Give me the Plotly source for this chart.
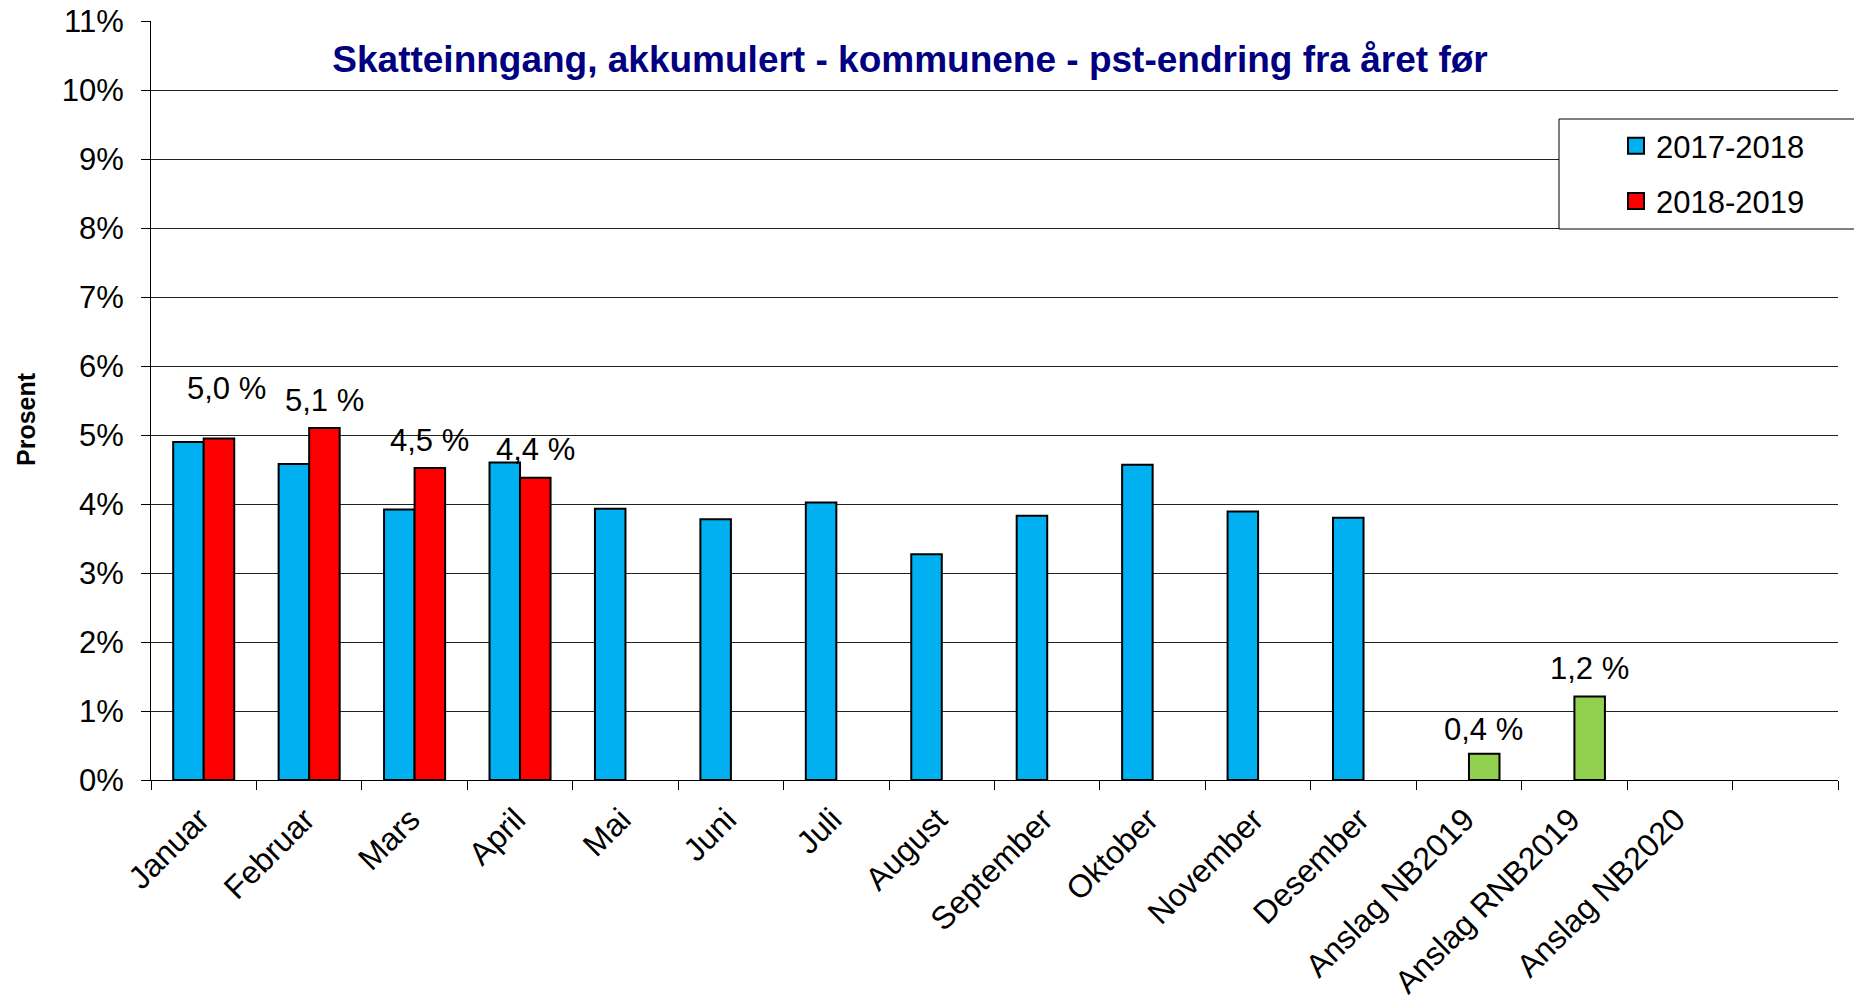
import plotly.graph_objects as go

categories = ["Januar", "Februar", "Mars", "April", "Mai", "Juni", "Juli", "August",
              "September", "Oktober", "November", "Desember",
              "Anslag NB2019", "Anslag RNB2019", "Anslag NB2020", " "]
s_2017_2018 = [4.90, 4.58, 3.92, 4.60, 3.93, 3.78, 4.02, 3.27, 3.83, 4.57, 3.89, 3.80,
               None, None, None, None]
s_2018_2019 = [4.95, 5.10, 4.52, 4.38, None, None, None, None, None, None, None, None,
               0.38, 1.21, None, None]
labels_2018_2019 = ["5,0 %", "5,1 %", "4,5 %", "4,4 %", None, None, None, None, None, None,
                    None, None, "0,4 %", "1,2 %", None, None]
series_names = ["2017-2018", "2018-2019"]
y_ticks = list(range(0, 12))
y_ticktext = [f"{v}%" for v in y_ticks]

BLUE = "#00B0F0"
RED = "#FF0000"
GREEN = "#92D050"
FONT = "Liberation Sans, Arial, sans-serif"

red_colors = [GREEN if c.startswith("Anslag") else RED for c in categories]
# extra vertical offset of each data label (style)
label_yshift = [50, 28, 28, 28, 0, 0, 0, 0, 0, 0, 0, 0, 24, 28, 0, 0]
label_xshift = [8, 0, 0, 0, 0, 0, 0, 0, 0, 0, 0, 0, -1, 0, 0, 0]

fig = go.Figure()
fig.add_trace(go.Bar(x=categories, y=s_2017_2018, name=series_names[0],
                     marker=dict(color=BLUE, line=dict(color="black", width=2)),
                     showlegend=False))
fig.add_trace(go.Bar(x=categories, y=s_2018_2019, name=series_names[1],
                     marker=dict(color=red_colors, line=dict(color="black", width=2)),
                     showlegend=False))
# legend entries
for name, col in zip(series_names, [BLUE, RED]):
    fig.add_trace(go.Scatter(x=[None], y=[None], mode="markers", name=name,
                             legendgroup=name,
                             marker=dict(symbol="square", size=16, color=col,
                                         line=dict(color="black", width=2))))

L, R, T, B = 151, 16, 21, 221
W, H = 1854, 1001
pw, ph = W - L - R, H - T - B

def px_x(x):
    return (x - L) / pw

def px_y(y):
    return (H - B - y) / ph

annotations = []
slot = 0.5 * (1 - 0.421) / 2 * (pw / len(categories))
for i, (c, v, lab) in enumerate(zip(categories, s_2018_2019, labels_2018_2019)):
    if lab is None or v is None:
        continue
    annotations.append(dict(x=c, y=v, xref="x", yref="y", text=lab, showarrow=False,
                            xshift=slot + label_xshift[i], yshift=label_yshift[i],
                            yanchor="middle", xanchor="center",
                            font=dict(family=FONT, size=31, color="black")))
annotations.append(dict(x=px_x(26), y=px_y(419), xref="paper", yref="paper",
                        text="<b>Prosent</b>", textangle=-90, showarrow=False,
                        xanchor="center", yanchor="middle",
                        font=dict(family=FONT, size=25, color="black")))

fig.update_layout(
    width=W, height=H,
    margin=dict(l=L, r=R, t=T, b=B, autoexpand=False),
    paper_bgcolor="white", plot_bgcolor="white",
    barmode="group", bargap=0.421, bargroupgap=0,
    title=dict(text="<b>Skatteinngang, akkumulert - kommunene - pst-endring fra året før</b>",
               x=910 / W, y=1 - 59 / H, xref="container", yref="container",
               xanchor="center", yanchor="middle",
               font=dict(family=FONT, size=37, color="#000080")),
    font=dict(family=FONT, size=31, color="black"),
    legend=dict(x=px_x(1616), y=px_y(119), xanchor="left", yanchor="top",
                bgcolor="rgba(0,0,0,0)", borderwidth=0, tracegroupgap=12,
                font=dict(family=FONT, size=31, color="black")),
    annotations=annotations,
    shapes=[dict(type="rect", xref="paper", yref="paper",
                 x0=px_x(1559), x1=px_x(1890), y0=px_y(229), y1=px_y(119),
                 fillcolor="white", line=dict(color="black", width=1), layer="above")],
)
fig.update_yaxes(range=[0, 11], tickvals=y_ticks, ticktext=y_ticktext, automargin=False,
                 showgrid=True, gridcolor="#222222", gridwidth=1,
                 showline=True, linecolor="black", linewidth=1,
                 ticks="outside", ticklen=9, tickcolor="black",
                 ticklabelstandoff=11, zeroline=False,
                 tickfont=dict(family=FONT, size=31, color="black"))
fig.update_xaxes(showline=True, linecolor="black", linewidth=1, automargin=False,
                 ticks="outside", ticklen=9, tickcolor="black", tickson="boundaries",
                 tickangle=-45, showgrid=False, ticklabelstandoff=7, ticklabelshift=-4,
                 tickfont=dict(family=FONT, size=32, color="black"))

fig.write_html("out.html",
               config={"displayModeBar": False},
               post_script="document.body.style.margin='0px';"
                           "document.body.style.overflow='hidden';")
